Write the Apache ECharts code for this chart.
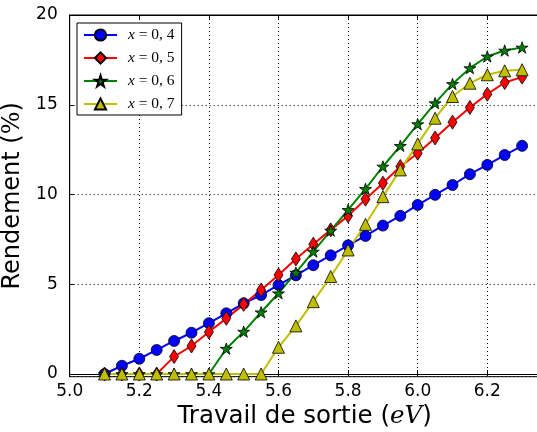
<!DOCTYPE html>
<html>
<head>
<meta charset="utf-8">
<script src="https://cdn.jsdelivr.net/npm/echarts@6/dist/echarts.min.js"></script>
<style>html,body{margin:0;padding:0;background:#fff}#c{width:537px;height:432px}</style>
</head>
<body>
<div id="c"></div>
<script>
var workFunction = [5.10,5.15,5.20,5.25,5.30,5.35,5.40,5.45,5.50,5.55,5.60,5.65,5.70,5.75,5.80,5.85,5.90,5.95,6.00,6.05,6.10,6.15,6.20,6.25,6.30];
var seriesNames = ['x = 0, 4','x = 0, 5','x = 0, 6','x = 0, 7'];
var yieldX04 = [0,0.46,0.85,1.34,1.84,2.30,2.83,3.38,3.94,4.40,4.96,5.50,6.06,6.61,7.17,7.69,8.27,8.81,9.42,9.98,10.53,11.13,11.65,12.20,12.71];
var yieldX05 = [0,0,0,0,0.97,1.56,2.34,3.10,3.88,4.68,5.52,6.41,7.23,8.03,8.81,9.74,10.63,11.56,12.30,13.15,14.03,14.85,15.59,16.24,16.54];
var yieldX06 = [0,0,0,0,0,0,0,1.41,2.36,3.44,4.50,5.65,6.82,7.99,9.14,10.31,11.56,12.71,13.92,15.09,16.16,17.04,17.69,18.02,18.19];
var yieldX07 = [0,0,0,0,0,0,0,0,0,0,1.49,2.68,4.03,5.43,6.91,8.34,9.88,11.37,12.82,14.25,15.46,16.20,16.67,16.89,16.95];
var xTicks = [5.0,5.2,5.4,5.6,5.8,6.0,6.2];
var yTicks = [0,5,10,15,20];

var STAR = 'path://M100,0 L122.45,69.1 L195.1,69.1 L136.3,111.8 L158.8,180.9 L100,138.2 L41.2,180.9 L63.7,111.8 L4.9,69.1 L77.55,69.1 Z';
function pairs(ys){ return workFunction.map(function(x,i){ return [x, ys[i]]; }); }
function mk(name, ys, color, symbol, size){
  return {
    name: name, type: 'line', data: pairs(ys),
    symbol: symbol, symbolSize: size, symbolKeepAspect: true,
    showAllSymbol: true,
    lineStyle: {color: color, width: 2},
    itemStyle: {color: color, borderColor: '#000', borderWidth: 0.8},
    emphasis: {disabled: true},
    animation: false
  };
}
var chart = echarts.init(document.getElementById('c'), null, {renderer: 'canvas'});
var FONT = 'DejaVu Sans';
chart.setOption({
  backgroundColor: '#fff',
  animation: false,
  grid: {left: 69.7, top: 15, width: 469.8, height: 361.7, show: true, borderColor: '#000', borderWidth: 1,
    backgroundColor: 'transparent', containLabel: false, outerBoundsMode: 'none'},
  legend: {
    orient: 'vertical', left: 77, top: 23,
    padding: [4, 7, 3, 6], itemGap: 7, itemWidth: 33, itemHeight: 14,
    backgroundColor: '#fff', borderColor: '#000', borderWidth: 1,
    data: seriesNames,
    formatter: function(n){ return '{i|x}{t|' + n.slice(1) + '}'; },
    textStyle: {
      lineHeight: 14,
      rich: {
        i: {fontFamily: 'Liberation Serif', fontStyle: 'italic', fontSize: 15.5, color: '#000', padding: [0,0,0,6], lineHeight: 14},
        t: {fontFamily: 'Liberation Serif', fontSize: 15.5, color: '#000', lineHeight: 14}
      }
    }
  },
  xAxis: [{
    type: 'value', min: 5.0, max: 6.35, interval: 0.2,
    position: 'bottom',
    name: 'Travail de sortie ({i|eV})', nameLocation: 'middle', nameGap: 25,
    nameTextStyle: {fontFamily: FONT, fontSize: 24.5, color: '#000',
      rich: {i: {fontFamily: 'DejaVu Serif', fontStyle: 'italic', fontSize: 24.5, color: '#000'}}},
    axisLine: {show: true, lineStyle: {color: '#000', width: 1}},
    axisTick: {show: true, inside: true, length: 4, lineStyle: {color: '#000'}},
    axisLabel: {show: true, showMaxLabel: false, margin: 6, fontFamily: FONT, fontSize: 17, color: '#000',
      formatter: function(v){ for (var k=0;k<xTicks.length;k++){ if (Math.abs(v-xTicks[k])<1e-6) return xTicks[k].toFixed(1);} return ''; }},
    splitLine: {show: true, lineStyle: {color: '#000', width: 1, type: [1, 3]}}
  }, {
    type: 'value', min: 5.0, max: 6.35, interval: 0.2, position: 'top',
    axisLine: {show: true, lineStyle: {color: '#000', width: 1}},
    axisTick: {show: true, inside: true, length: 4, lineStyle: {color: '#000'}},
    axisLabel: {show: false}, splitLine: {show: false}
  }],
  yAxis: [{
    type: 'value', min: -0.15, max: 20, splitNumber: 4,
    name: 'Rendement ({p|%})', nameLocation: 'middle', nameGap: 32,
    nameTextStyle: {fontFamily: FONT, fontSize: 24, color: '#000',
      rich: {p: {fontFamily: 'DejaVu Serif', fontSize: 24, color: '#000'}}},
    axisLine: {show: true, lineStyle: {color: '#000', width: 1}},
    axisTick: {show: true, inside: true, length: 4, lineStyle: {color: '#000'}},
    axisLabel: {show: true, showMinLabel: false, margin: 12, fontFamily: FONT, fontSize: 17, color: '#000',
      formatter: function(v){ for (var k=0;k<yTicks.length;k++){ if (Math.abs(v-yTicks[k])<1e-6) return String(yTicks[k]);} return ''; }},
    splitLine: {show: true, lineStyle: {color: '#000', width: 1, type: [1, 3]}}
  }],
  series: [
    mk(seriesNames[0], yieldX04, '#0000ff', 'circle', 11),
    mk(seriesNames[1], yieldX05, '#ff0000', 'diamond', [9, 14]),
    mk(seriesNames[2], yieldX06, '#008000', STAR, 12),
    mk(seriesNames[3], yieldX07, '#bfbf00', 'triangle', 12)
  ]
});
</script>
</body>
</html>
